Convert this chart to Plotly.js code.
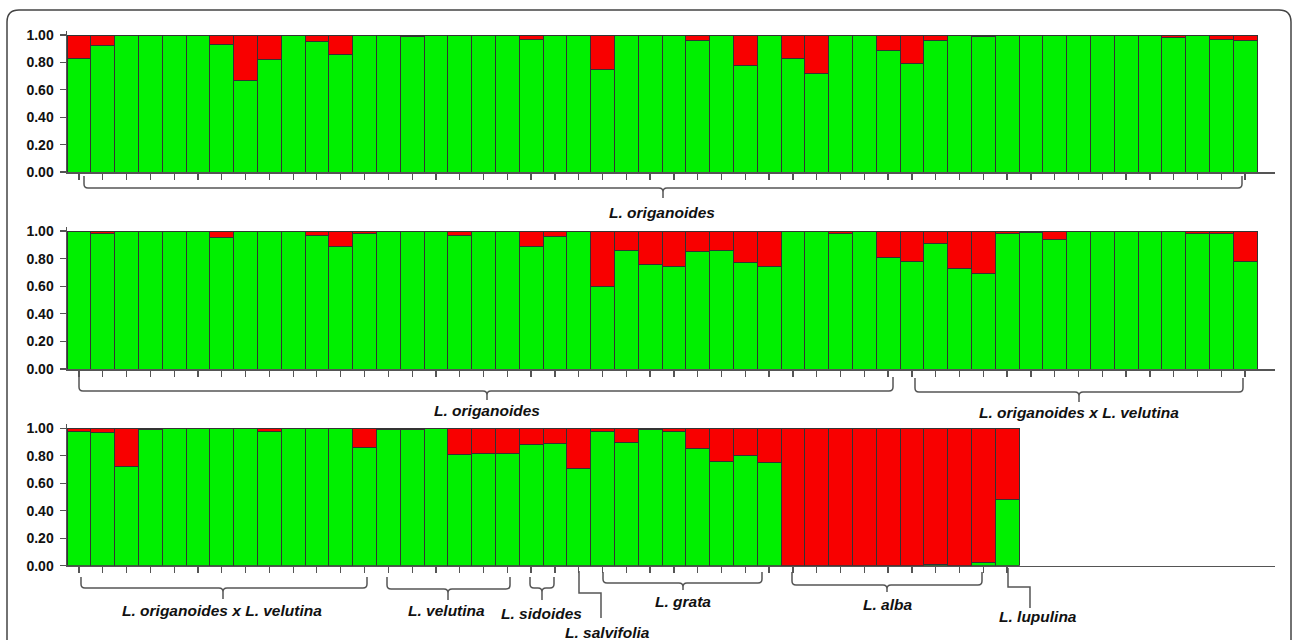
<!DOCTYPE html>
<html>
<head>
<meta charset="utf-8">
<script src="https://cdn.plot.ly/plotly-3.0.1.min.js"></script>
<style>html,body{margin:0;padding:0;background:#fff;}#chart{width:1292px;height:640px;}</style>
</head>
<body>
<div id="chart"></div>
<script>
// Cluster-1 (green) membership per individual
const row1Green = [0.83,0.92,1,1,1,1,0.93,0.67,0.82,1,0.95,0.86,1,1,0.99,1,1,1,1,0.97,1,1,0.75,1,1,1,0.96,1,0.78,1,0.83,0.72,1,1,0.89,0.79,0.96,1,0.99,1,1,1,1,1,1,1,0.98,1,0.97,0.96];
const row2Green = [1,0.98,1,1,1,1,0.95,1,1,1,0.97,0.89,0.98,1,1,1,0.97,1,1,0.89,0.96,1,0.60,0.86,0.76,0.74,0.85,0.86,0.77,0.74,1,1,0.98,1,0.81,0.78,0.91,0.73,0.69,0.98,0.99,0.94,1,1,1,1,1,0.98,0.98,0.78];
const row3Green = [0.98,0.97,0.72,0.99,1,1,1,1,0.98,1,1,1,0.86,0.99,0.99,1,0.81,0.82,0.82,0.88,0.89,0.71,0.98,0.90,0.99,0.98,0.85,0.76,0.80,0.75,0,0,0,0,0,0,0.01,0,0.02,0.48];
const yTickVals = [0,0.2,0.4,0.6,0.8,1.0];
const yTickText = ["0.00","0.20","0.40","0.60","0.80","1.00"];
const groupLabels = ["L. origanoides","L. origanoides","L. origanoides x L. velutina","L. origanoides x L. velutina","L. velutina","L. sidoides","L. salvifolia","L. grata","L. alba","L. lupulina"];

const W = 1292, H = 640;
const PX = x => x / W;
const PY = y => 1 - y / H;
const GREEN = '#00f000', RED = '#f80000', OUT = '#333333', AX = '#555555';

const rows = [row1Green, row2Green, row3Green];
const traces = [];
rows.forEach((g, i) => {
  const idx = g.map((_, k) => k);
  const sfx = i === 0 ? '' : String(i + 1);
  traces.push({type:'bar', x: idx, y: g, xaxis:'x'+sfx, yaxis:'y'+sfx,
    marker:{color:GREEN, line:{color:OUT, width:1}}, hoverinfo:'y', showlegend:false});
  traces.push({type:'bar', x: idx, y: g.map(v => +(1 - v).toFixed(3)), xaxis:'x'+sfx, yaxis:'y'+sfx,
    marker:{color:RED, line:{color:OUT, width:1}}, hoverinfo:'y', showlegend:false});
});

const barW = 23.8, x0px = 67, xEndPx = 1275;
const xRange = [-0.5, -0.5 + (xEndPx - x0px) / barW];
// row pixel geometry: [y of 0, y of 1]
const rowGeom = [[172, 35], [369, 231], [565.7, 428.3]];

const layout = {
  width: W, height: H,
  margin: {l:0, r:0, t:0, b:0, pad:0},
  paper_bgcolor:'#fff', plot_bgcolor:'rgba(0,0,0,0)',
  barmode:'stack', bargap:0,
  showlegend:false,
  shapes: [], annotations: []
};
rowGeom.forEach((gm, i) => {
  const sfx = i === 0 ? '' : String(i + 1);
  const unit = gm[0] - gm[1];
  const topPx = gm[0] - unit * 1.03;
  layout['xaxis'+sfx] = {
    domain:[PX(x0px), PX(xEndPx)], range:xRange, anchor:'y'+sfx,
    showline:true, linecolor:AX, linewidth:1.5, ticks:'outside', ticklen:6, tickwidth:1.2, tickcolor:AX,
    tickvals: rows[i].map((_, k) => k), showticklabels:false, showgrid:false, zeroline:false, fixedrange:true
  };
  layout['yaxis'+sfx] = {
    domain:[PY(gm[0]), PY(topPx)], range:[0, 1.03], anchor:'x'+sfx,
    showline:true, linecolor:AX, linewidth:1.5, ticks:'outside', ticklen:6, tickwidth:1.2, tickcolor:AX,
    tickvals:yTickVals, ticktext:yTickText, ticklabelstandoff:3,
    tickfont:{family:'Liberation Sans, Arial, sans-serif', size:14, color:'#111', weight:'bold'},
    showgrid:false, zeroline:false, fixedrange:true
  };
});

function brace(x0, x1, y, yTop, xm, yS){
  const r = 4;
  const c = (x, yy) => PX(x).toFixed(5) + ',' + PY(yy).toFixed(5);
  return 'M' + c(x0, yTop) + ' L' + c(x0, y - r) + ' Q' + c(x0, y) + ' ' + c(x0 + r, y) +
    ' L' + c(xm - r, y) + ' Q' + c(xm, y) + ' ' + c(xm, y + r) + ' L' + c(xm, yS) +
    ' M' + c(xm, y + r) + ' Q' + c(xm, y) + ' ' + c(xm + r, y) +
    ' L' + c(x1 - r, y) + ' Q' + c(x1, y) + ' ' + c(x1, y - r) + ' L' + c(x1, yTop);
}
function poly(pts){
  return pts.map((p, k) => (k ? 'L' : 'M') + PX(p[0]).toFixed(5) + ',' + PY(p[1]).toFixed(5)).join(' ');
}
const lineStyle = {color:AX, width:1.5};
const paths = [
  brace(84, 1242, 188, 176, 663, 198),
  brace(79, 893, 391, 377, 487, 400),
  brace(915, 1243, 392, 378, 1079, 402),
  brace(81, 367, 588, 577, 223, 599),
  brace(387, 510, 589, 577, 448, 600),
  brace(530, 554, 588, 577, 542, 600),
  poly([[579,571],[579,593],[601,593],[601,618]]),
  brace(603, 762, 583, 572, 683, 590),
  brace(792, 982, 585, 572, 887, 592),
  poly([[1008,568],[1008,587],[1030,587],[1030,608]])
];
paths.forEach(p => layout.shapes.push({type:'path', xref:'paper', yref:'paper', path:p, line:lineStyle}));
// outer rounded frame
layout.shapes.push({type:'path', xref:'paper', yref:'paper', line:{color:'#444', width:1.5},
  path: 'M' + PX(7) + ',' + PY(660) + ' L' + PX(7) + ',' + PY(22) + ' Q' + PX(7) + ',' + PY(10) + ' ' + PX(19) + ',' + PY(10) +
        ' L' + PX(1279) + ',' + PY(10) + ' Q' + PX(1291) + ',' + PY(10) + ' ' + PX(1291) + ',' + PY(22) + ' L' + PX(1291) + ',' + PY(660)});

const labelPos = [[662,212],[487,410],[1079,412],[222,610],[446,610],[541,613],[607,632],[683,601],[887,604],[1038,616]];
groupLabels.forEach((t, k) => {
  layout.annotations.push({xref:'paper', yref:'paper', x:PX(labelPos[k][0]), y:PY(labelPos[k][1]),
    xanchor:'center', yanchor:'middle', showarrow:false, text:'<b><i>' + t + '</i></b>',
    font:{family:'Liberation Sans, Arial, sans-serif', size:15.5, color:'#111'}});
});

Plotly.newPlot('chart', traces, layout, {displayModeBar:false, staticPlot:true});
</script>
</body>
</html>
